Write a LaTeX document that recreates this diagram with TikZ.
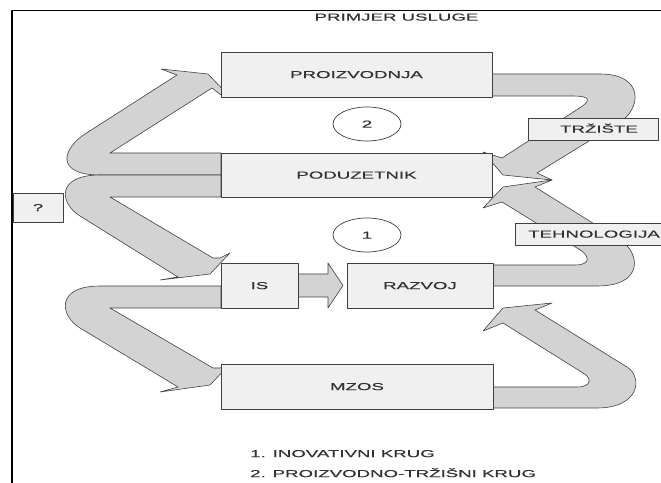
\documentclass[tikz,border=0pt]{standalone}
\usepackage{fontspec}
\newfontfamily\wide[FakeStretch=1.83, FakeBold=0.4]{Liberation Sans}
\definecolor{arrowgrey}{RGB}{211,211,211}
\definecolor{boxgrey}{RGB}{240,240,240}
\definecolor{linegrey}{RGB}{64,64,64}
\definecolor{textgrey}{RGB}{50,50,50}
\begin{document}
\begin{tikzpicture}[x=0.03cm, y=-0.03cm, line join=round,
	blok/.style={fill=boxgrey, draw=linegrey, line width=0.6pt},
	strela/.style={fill=arrowgrey, draw=linegrey, line width=0.5pt},
	lbl/.style={font=\wide\fontsize{8.7}{10}\selectfont, text=textgrey, inner sep=0pt, text height=6.2pt, text depth=0pt}]
	\clip (0,0) rectangle (661,483);
	\fill[white] (0,0) rectangle (661,483);
	\draw[line width=1.3pt] (661,10.5) -- (12,10.5) -- (12,483); % okvir
	% lijeve strelice
	\filldraw[strela] (221,175) -- (100,175) .. controls (55,175) and (62,149) .. (85,134) -- (177,75) -- (161,69) -- (208,74) -- (229,96) -- (221,95) -- (212,88) -- (110,153) -- (221,153) -- cycle;
	\filldraw[strela] (221,175) -- (100,175) .. controls (55,175) and (60,204) .. (80,216) -- (178,277) -- (160,280) -- (210,274) -- (230,253) -- (220,258) -- (213,258) -- (110,197) -- (221,197) -- cycle;
	\filldraw[strela] (221,286) -- (100,286) .. controls (55,286) and (60,316) .. (80,328) -- (178,387) -- (160,392) -- (210,385) -- (230,364) -- (220,368) -- (213,368) -- (110,308) -- (221,308) -- cycle;
	\filldraw[strela] (298,274) -- (328,274) -- (328,263) -- (343,285.5) -- (328,308) -- (328,297) -- (298,297) -- cycle;
	% desne strelice
	\filldraw[strela] (492,74) -- (600,74) .. controls (645,74) and (641,109) .. (620,122) -- (537,173) -- (552,180) -- (503,175) -- (483,152) -- (502,158) -- (578,109) .. controls (591,101) and (592,96) .. (572,96) -- (492,96) -- cycle;
	\filldraw[strela] (493,286) -- (597,286) .. controls (645,286) and (640,252) .. (620,240) -- (535,187) -- (552,180) -- (503,187) -- (483,208) -- (502,202) -- (577,248) .. controls (590,255) and (592,265) .. (575,265) -- (493,265) -- cycle;
	\filldraw[strela] (493,408) -- (597,408) .. controls (640,408) and (643,377) .. (627,367) -- (535,310) -- (552,303) -- (503,308) -- (483,331) -- (503,323) -- (583,373) .. controls (592,378) and (592,387) .. (577,387) -- (493,387) -- cycle;
	% blokovi
	\filldraw[blok] (221,52) rectangle (492,97);
	\filldraw[blok] (221,153) rectangle (492,197);
	\filldraw[blok] (221,263) rectangle (298,308);
	\filldraw[blok] (347,263) rectangle (493,308);
	\filldraw[blok] (221,364) rectangle (493,409);
	\filldraw[blok] (528,118) rectangle (658,140);
	\filldraw[blok] (515,223) rectangle (670,245);
	\filldraw[blok] (13,193) rectangle (63,222);
	\draw[linegrey, line width=0.6pt] (367,124) ellipse (34 and 17);
	\draw[linegrey, line width=0.6pt] (367,235) ellipse (34 and 17);
	% tekst
	\node[lbl] (naslov) at (396.5,17) {PRIMJER USLUGE};
	\node[lbl] (proizvodnja) at (356.5,74.5) {PROIZVODNJA};
	\node[lbl] (poduzetnik) at (356.5,175) {PODUZETNIK};
	\node[lbl] (is) at (259.5,285.5) {IS};
	\node[lbl] (razvoj) at (420,285.5) {RAZVOJ};
	\node[lbl] (mzos) at (357,386.5) {MZOS};
	\node[lbl] (trziste) at (599,129) {TRŽIŠTE};
	\node[lbl] (tehnologija) at (594,234) {TEHNOLOGIJA};
	\node[lbl] (upitnik) at (38,207.5) {?};
	\node[lbl] (krug2) at (367,124) {2};
	\node[lbl] (krug1) at (367,235) {1};
	\node[lbl, anchor=west] (leg1) at (250,453.5) {1. INOVATIVNI KRUG};
	\node[lbl, anchor=west] (leg2) at (250,473.5) {2. PROIZVODNO-TRŽIŠNI KRUG};
\end{tikzpicture}
\end{document}
